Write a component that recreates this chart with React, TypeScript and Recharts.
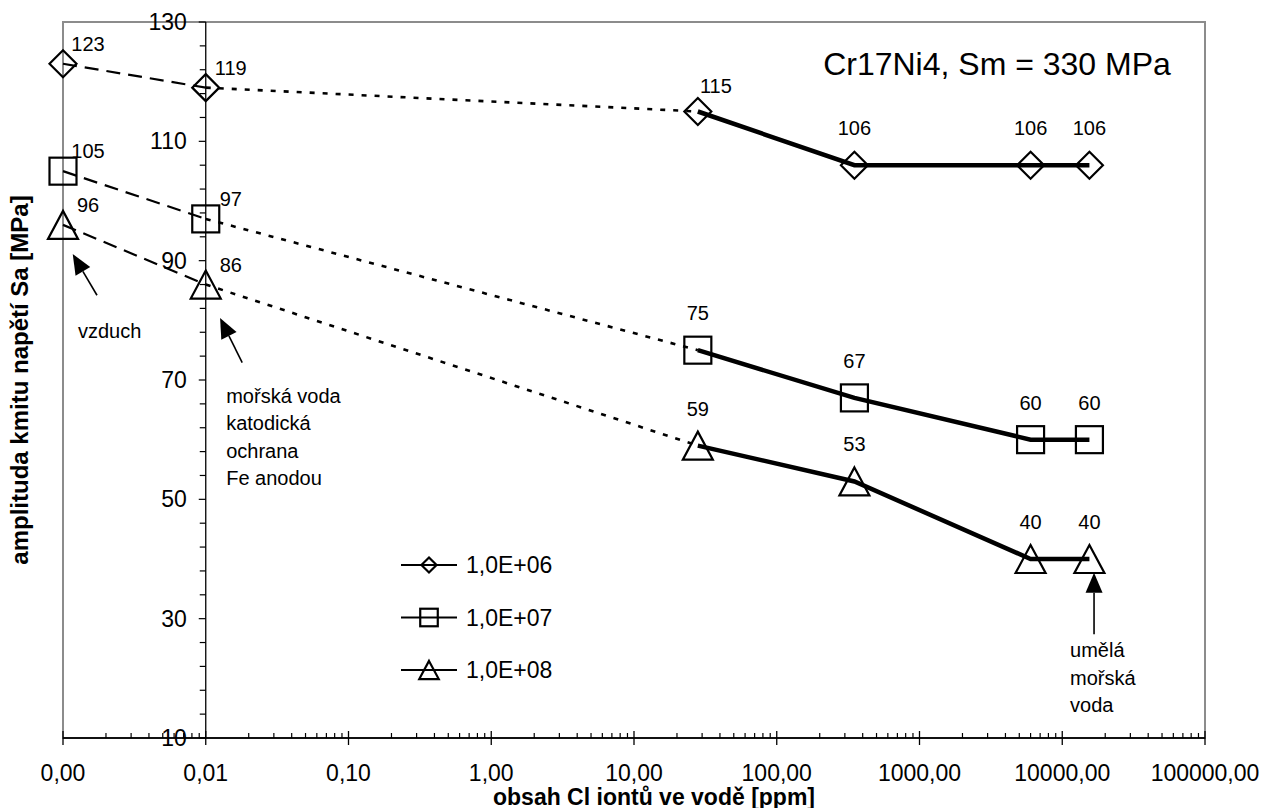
import React from "react";
import {
  ComposedChart,
  Line,
  Scatter,
  XAxis,
  YAxis,
  ReferenceArea,
  ReferenceLine,
  ReferenceDot,
} from "recharts";

// obsah Cl iontů [ppm]; 0.001 stands for the "0,00" (vzduch) point on the log axis
const concentration = [0.001, 0.01, 28, 350, 6000, 15500];
const amplitude1e6 = [123, 119, 115, 106, 106, 106];
const amplitude1e7 = [105, 97, 75, 67, 60, 60];
const amplitude1e8 = [96, 86, 59, 53, 40, 40];
const seriesNames = ["1,0E+06", "1,0E+07", "1,0E+08"];

const xMajorTicks = [0.001, 0.01, 0.1, 1, 10, 100, 1000, 10000, 100000];
const yMajorTicks = [10, 30, 50, 70, 90, 110, 130];

const FONT = '"Liberation Sans", Arial, Helvetica, sans-serif';
const W = 1274;
const H = 800;

// minor ticks: 2..9 per decade on x, every 4 MPa on y
const xMinorTicks = xMajorTicks
  .slice(0, -1)
  .flatMap((d) => [2, 3, 4, 5, 6, 7, 8, 9].map((k) => +(k * d).toPrecision(3)));
const yMinorTicks: number[] = [];
for (let v = 10; v <= 130; v += 4) yMinorTicks.push(v);

const fmt = (v: number) => v.toFixed(2).replace(".", ",");

type Pt = { x: number; y: number };
const toPoints = (vals: number[]): Pt[] => concentration.map((x, i) => ({ x, y: vals[i] }));
const series = [amplitude1e6, amplitude1e7, amplitude1e8].map(toPoints);
const kinds = ["diamond", "square", "triangle"] as const;

function MarkerPath({ kind, cx, cy, scale = 1 }: { kind: string; cx: number; cy: number; scale?: number }) {
  const common = { fill: "none", stroke: "#000", strokeWidth: 2.2 };
  if (kind === "diamond") {
    const r = 13.5 * scale;
    return <polygon points={`${cx},${cy - r} ${cx + r},${cy} ${cx},${cy + r} ${cx - r},${cy}`} {...common} />;
  }
  if (kind === "square") {
    const s = 27 * scale;
    return <rect x={cx - s / 2} y={cy - s / 2} width={s} height={s} {...common} />;
  }
  const w = 30 * scale;
  const h = 28 * scale;
  return (
    <polygon
      points={`${cx},${cy - h / 2} ${cx + w / 2},${cy + h / 2} ${cx - w / 2},${cy + h / 2}`}
      {...common}
    />
  );
}

function labelShift(si: number, x: number) {
  if (x <= 0.01) return [25, -20];
  if (si === 0 && x === concentration[2]) return [18, -26]; // 115 was nudged aside
  return [0, -37];
}

function pointShape(si: number) {
  return (p: any) => {
    const [dx, dy] = labelShift(si, p.payload.x);
    return (
      <g>
        <MarkerPath kind={kinds[si]} cx={p.cx} cy={p.cy} />
        <text
          x={p.cx + dx}
          y={p.cy + dy}
          textAnchor="middle"
          dominantBaseline="central"
          fontFamily={FONT}
          fontSize={20}
          fill="#000"
        >
          {p.payload.y}
        </text>
      </g>
    );
  };
}

function XTick({ x, y, payload }: any) {
  const v = payload.value;
  const major = xMajorTicks.includes(v);
  if (!major) return <line x1={x} x2={x} y1={y - 5} y2={y} stroke="#000" strokeWidth={1.2} />;
  return (
    <g>
      <line x1={x} x2={x} y1={y - 7} y2={y + 7} stroke="#000" strokeWidth={1.3} />
      <text
        x={x}
        y={y + 35}
        textAnchor="middle"
        dominantBaseline="central"
        fontFamily={FONT}
        fontSize={23}
        fill="#000"
      >
        {fmt(v)}
      </text>
    </g>
  );
}

function yTickShape(v: number) {
  return (p: any) => {
    const major = yMajorTicks.includes(v);
    return (
      <g>
        <line x1={p.cx - (major ? 7 : 6)} x2={p.cx} y1={p.cy} y2={p.cy} stroke="#000" strokeWidth={1.2} />
        {major && (
          <text
            x={p.cx - 19}
            y={p.cy}
            textAnchor="end"
            dominantBaseline="central"
            fontFamily={FONT}
            fontSize={23}
            fill="#000"
          >
            {v}
          </text>
        )}
      </g>
    );
  };
}

const notes = [
  { tip: { x: 0.00117, y: 91.1 }, tail: { x: 0.00173, y: 84.2 }, lines: ["vzduch"], dx: -19, dy: 36 },
  {
    tip: { x: 0.0126, y: 80.4 },
    tail: { x: 0.018, y: 72.9 },
    lines: ["mořská voda", "katodická", "ochrana", "Fe anodou"],
    dx: -16,
    dy: 33,
  },
  { tip: { x: 16700, y: 37.7 }, tail: { x: 16700, y: 27.4 }, lines: ["umělá", "mořská", "voda"], dx: -24, dy: 16 },
];

function arrowShape(note: (typeof notes)[number]) {
  return (p: any) => {
    const { x1, y1, x2, y2 } = p;
    const len = Math.hypot(x1 - x2, y1 - y2) || 1;
    const ux = (x1 - x2) / len;
    const uy = (y1 - y2) / len;
    const hl = 20;
    const hw = 8.5;
    const bx = x1 - ux * hl;
    const by = y1 - uy * hl;
    return (
      <g>
        <line x1={x2} y1={y2} x2={bx} y2={by} stroke="#000" strokeWidth={1.6} />
        <polygon
          points={`${x1},${y1} ${bx - uy * hw},${by + ux * hw} ${bx + uy * hw},${by - ux * hw}`}
          fill="#000"
        />
        {note.lines.map((t, i) => (
          <text
            key={t}
            x={x2 + note.dx}
            y={y2 + note.dy + i * 27.5}
            dominantBaseline="central"
            fontFamily={FONT}
            fontSize={20}
            fill="#000"
          >
            {t}
          </text>
        ))}
      </g>
    );
  };
}

function LegendBox() {
  return (
    <svg width={220} height={175} style={{ position: "absolute", left: 383, top: 530, overflow: "visible" }}>
      {seriesNames.map((name, i) => {
        const cy = 27 + i * 52.5;
        return (
          <g key={name}>
            <line x1={10} x2={66} y1={cy} y2={cy} stroke="#000" strokeWidth={2} />
            <MarkerPath kind={kinds[i]} cx={38} cy={cy} scale={i === 0 ? 0.56 : 0.65} />
            <text x={75} y={cy} dominantBaseline="central" fontFamily={FONT} fontSize={23} fill="#000">
              {name}
            </text>
          </g>
        );
      })}
    </svg>
  );
}

export default function App() {
  return (
    <div style={{ position: "relative", width: W, height: H, fontFamily: FONT }}>
      <ComposedChart width={W} height={H} margin={{ top: 14, left: 55, right: 77, bottom: 20 }}>
        <XAxis
          dataKey="x"
          type="number"
          scale="log"
          domain={[0.001, 100000]}
          ticks={[...xMajorTicks, ...xMinorTicks]}
          interval={0}
          tick={<XTick />}
          tickLine={false}
          tickSize={0}
          tickMargin={0}
          height={50}
          axisLine={{ stroke: "#111", strokeWidth: 2 }}
        />
        <YAxis dataKey="y" type="number" domain={[10, 130]} ticks={yMajorTicks} hide />
        <ReferenceArea
          x1={0.001}
          x2={100000}
          y1={10}
          y2={130}
          fill="none"
          stroke="#8c8c8c"
          strokeWidth={2}
          ifOverflow="visible"
        />
        <ReferenceLine x={0.01} stroke="#000" strokeWidth={1.3} />
        {yMinorTicks.map((v) => (
          <ReferenceDot key={v} x={0.01} y={v} r={0} ifOverflow="visible" shape={yTickShape(v)} />
        ))}
        {series.map((pts, i) => (
          <Line
            key={`a${i}`}
            data={pts.slice(0, 2)}
            dataKey="y"
            type="linear"
            stroke="#000"
            strokeWidth={2.2}
            strokeDasharray="14 8"
            dot={false}
            activeDot={false}
            isAnimationActive={false}
          />
        ))}
        {series.map((pts, i) => (
          <Line
            key={`b${i}`}
            data={pts.slice(1, 3)}
            dataKey="y"
            type="linear"
            stroke="#000"
            strokeWidth={2.6}
            strokeDasharray="5 8"
            dot={false}
            activeDot={false}
            isAnimationActive={false}
          />
        ))}
        {series.map((pts, i) => (
          <Line
            key={`c${i}`}
            data={pts.slice(2)}
            dataKey="y"
            type="linear"
            stroke="#000"
            strokeWidth={4.5}
            dot={false}
            activeDot={false}
            isAnimationActive={false}
          />
        ))}
        {series.map((pts, i) => (
          <Scatter key={`s${i}`} data={pts} shape={pointShape(i)} isAnimationActive={false} />
        ))}
        {notes.map((n, i) => (
          <ReferenceLine key={`n${i}`} segment={[n.tip, n.tail]} ifOverflow="visible" shape={arrowShape(n)} />
        ))}
      </ComposedChart>
      <LegendBox />
      <div
        style={{
          position: "absolute",
          left: 989,
          top: 56,
          transform: "translate(-50%, -50%)",
          fontSize: 32,
          whiteSpace: "nowrap",
          lineHeight: 1,
        }}
      >
        Cr17Ni4, Sm = 330 MPa
      </div>
      <div
        style={{
          position: "absolute",
          left: 646,
          top: 789,
          transform: "translate(-50%, -50%)",
          fontSize: 23,
          fontWeight: "bold",
          whiteSpace: "nowrap",
          lineHeight: 1,
        }}
      >
        obsah Cl iontů ve vodě [ppm]
      </div>
      <div
        style={{
          position: "absolute",
          left: 12,
          top: 372,
          transform: "translate(-50%, -50%) rotate(-90deg)",
          fontSize: 24,
          fontWeight: "bold",
          whiteSpace: "nowrap",
          lineHeight: 1,
        }}
      >
        amplituda kmitu napětí Sa [MPa]
      </div>
    </div>
  );
}
